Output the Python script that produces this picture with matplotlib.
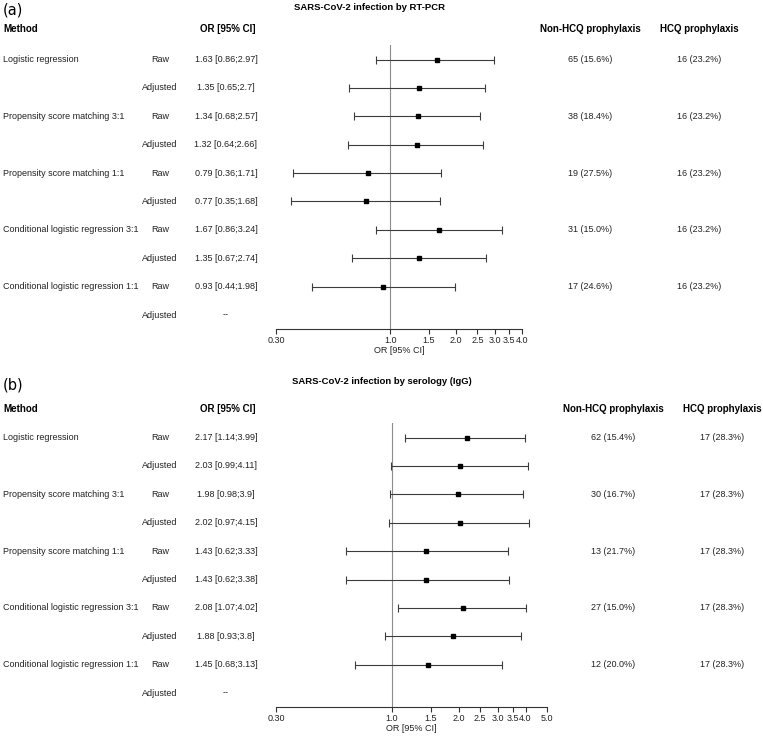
import matplotlib
matplotlib.use("Agg")
import matplotlib.pyplot as plt
import numpy as np

W, H = 763, 740
plt.rcParams["font.family"] = ["Liberation Sans", "DejaVu Sans"]

methods = ["Logistic regression", "Propensity score matching 3:1",
           "Propensity score matching 1:1", "Conditional logistic regression 3:1",
           "Conditional logistic regression 1:1"]
models = ["Raw", "Adjusted"]

# (a) RT-PCR -- rows alternate Raw / Adjusted for each method
pcr_or = [1.63, 1.35, 1.34, 1.32, 0.79, 0.77, 1.67, 1.35, 0.93, np.nan]
pcr_lo = [0.86, 0.65, 0.68, 0.64, 0.36, 0.35, 0.86, 0.67, 0.44, np.nan]
pcr_hi = [2.97, 2.7, 2.57, 2.66, 1.71, 1.68, 3.24, 2.74, 1.98, np.nan]
pcr_non_hcq = ["65 (15.6%)", "38 (18.4%)", "19 (27.5%)", "31 (15.0%)", "17 (24.6%)"]
pcr_hcq = ["16 (23.2%)", "16 (23.2%)", "16 (23.2%)", "16 (23.2%)", "16 (23.2%)"]
pcr_ticks = [0.30, 1.0, 1.5, 2.0, 2.5, 3.0, 3.5, 4.0]
pcr_ticklabels = ["0.30", "1.0", "1.5", "2.0", "2.5", "3.0", "3.5", "4.0"]

# (b) serology IgG
igg_or = [2.17, 2.03, 1.98, 2.02, 1.43, 1.43, 2.08, 1.88, 1.45, np.nan]
igg_lo = [1.14, 0.99, 0.98, 0.97, 0.62, 0.62, 1.07, 0.93, 0.68, np.nan]
igg_hi = [3.99, 4.11, 3.9, 4.15, 3.33, 3.38, 4.02, 3.8, 3.13, np.nan]
igg_non_hcq = ["62 (15.4%)", "30 (16.7%)", "13 (21.7%)", "27 (15.0%)", "12 (20.0%)"]
igg_hcq = ["17 (28.3%)", "17 (28.3%)", "17 (28.3%)", "17 (28.3%)", "17 (28.3%)"]
igg_ticks = [0.30, 1.0, 1.5, 2.0, 2.5, 3.0, 3.5, 4.0, 5.0]
igg_ticklabels = ["0.30", "1.0", "1.5", "2.0", "2.5", "3.0", "3.5", "4.0", "5.0"]

fig = plt.figure(figsize=(W / 100, H / 100), dpi=100)
fs = 6.5


def txt(x, y, s, **kw):
    fig.text(x / W, 1 - y / H, s, va="center", **kw)


def panel(tag, title, ors, los, his, non_hcq, hcq, ticks, ticklabels,
          y_tag, y_title, yh, row0, x_right, title_x, col1, col2):
    txt(3, y_tag, tag, fontsize=10.5, family=["DejaVu Sans"])
    txt(title_x, y_title, title, ha="center", fontsize=6.8, fontweight="bold")
    txt(3, yh, "Method", fontsize=7, fontweight="bold")
    txt(228, yh, "OR [95% CI]", ha="center", fontsize=7, fontweight="bold")
    txt(col1, yh, "Non-HCQ prophylaxis", ha="center", fontsize=7, fontweight="bold")
    txt(col2, yh, "HCQ prophylaxis", ha="center", fontsize=7, fontweight="bold")

    dy = 28.4
    for i in range(10):
        y = row0 + i * dy
        if i % 2 == 0:
            txt(3, y, methods[i // 2], fontsize=fs, color="#222222")
            txt(col1, y, non_hcq[i // 2], ha="center", fontsize=fs, color="#222222")
            txt(col2, y, hcq[i // 2], ha="center", fontsize=fs, color="#222222")
        txt(160, y, models[i % 2], ha="center", fontsize=fs, color="#222222")
        if np.isnan(ors[i]):
            s = "--"
        else:
            s = f"{ors[i]:g} [{los[i]:g};{his[i]:g}]"
        txt(226, y, s, ha="center", fontsize=fs, color="#222222")

    ybot = row0 + 9 * dy + 14
    ytop = row0 - 15
    ax = fig.add_axes([276 / W, 1 - ybot / H, (x_right - 276) / W, (ybot - ytop) / H])
    ax.set_xscale("log")
    ax.set_xlim(ticks[0], ticks[-1])
    ax.set_ylim((ybot - row0) / dy, (ytop - row0) / dy)
    ax.axvline(1.0, color="#8c8c8c", lw=0.8, zorder=1)
    rows = np.arange(10)
    o = np.array(ors)
    err = [o - np.array(los), np.array(his) - o]
    ax.errorbar(o, rows, xerr=err, fmt="s", ms=3, mfc="black", mec="black",
                ecolor="#3c3c3c", elinewidth=0.8, capsize=3, capthick=0.8, zorder=3)
    for side in ["left", "top", "right"]:
        ax.spines[side].set_visible(False)
    ax.spines["bottom"].set_linewidth(0.8)
    ax.spines["bottom"].set_color("#333333")
    ax.set_yticks([])
    ax.set_xticks(ticks)
    ax.set_xticklabels(ticklabels)
    ax.minorticks_off()
    ax.tick_params(axis="x", length=3.6, width=0.8, pad=1.5, labelsize=fs,
                   color="#333333", labelcolor="#222222")
    ax.set_xlabel("OR [95% CI]", fontsize=fs, labelpad=0.5, color="#222222")
    ax.patch.set_visible(False)


panel("(a)", "SARS-CoV-2 infection by RT-PCR", pcr_or, pcr_lo, pcr_hi,
      pcr_non_hcq, pcr_hcq, pcr_ticks, pcr_ticklabels,
      y_tag=10, y_title=7, yh=29, row0=59.5,
      x_right=522, title_x=370, col1=590, col2=699)
panel("(b)", "SARS-CoV-2 infection by serology (IgG)", igg_or, igg_lo, igg_hi,
      igg_non_hcq, igg_hcq, igg_ticks, igg_ticklabels,
      y_tag=385, y_title=382, yh=409, row0=437.5,
      x_right=547, title_x=382, col1=613, col2=722)

fig.savefig("out.png", dpi=100)
